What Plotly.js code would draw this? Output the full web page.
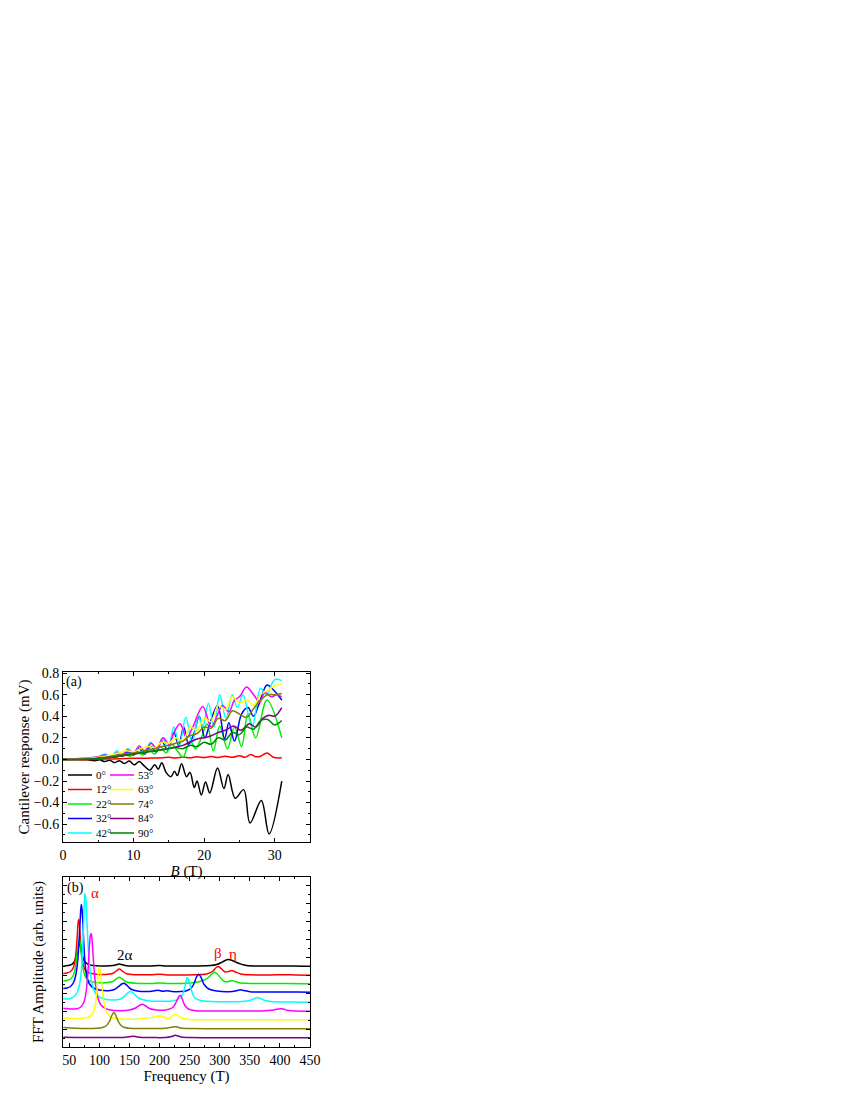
<!DOCTYPE html>
<html>
<head>
<meta charset="utf-8">
<script src="https://cdn.plot.ly/plotly-3.0.1.min.js"></script>
<style>
  body { margin: 0; background: white; }
  #chart { width: 850px; height: 1100px; }
</style>
</head>
<body>
<div id="chart"></div>
<script>
// ---- (a) cantilever response vs field, one pair of arrays per angle ----
var angles = ['0°', '12°', '22°', '32°', '42°', '53°', '63°', '74°', '84°', '90°']
var colors = ['#000000', '#ff0000', '#00ee00', '#0000ff', '#00ffff', '#ff00ff', '#ffff00', '#808000', '#800080', '#008000']

var field0 = [0, 2, 3.5, 4.5, 5.2, 5.9, 6.6, 7.3, 8.0, 8.7, 9.4, 10.1, 10.8, 11.5, 12.3, 13.0, 13.5, 14.0, 14.6, 15.3, 15.8, 16.2, 16.8, 17.5, 18.0, 18.6, 19.0, 19.6, 20.2, 20.8, 21.9, 22.8, 23.4, 24.4, 25.6, 26.5, 28.1, 29.2, 31.0]
var resp0 = [0, 0, -0.004, -0.012, -0.004, -0.02, -0.008, -0.03, -0.012, -0.038, -0.015, -0.05, -0.02, -0.06, -0.1, -0.05, -0.09, -0.03, -0.12, -0.16, -0.11, -0.15, -0.04, -0.16, -0.12, -0.26, -0.2, -0.33, -0.21, -0.31, -0.08, -0.27, -0.14, -0.36, -0.28, -0.59, -0.38, -0.69, -0.20]

var field12 = [0, 4, 6, 8, 10, 12, 14, 15, 16, 17, 18, 19, 20, 21, 22, 23, 24, 25, 25.8, 26.6, 27.3, 28.0, 28.9, 29.8, 31]
var resp12 = [0, 0, 0.003, 0.006, 0.01, 0.012, 0.015, 0.02, 0.013, 0.022, 0.015, 0.025, 0.017, 0.028, 0.018, 0.03, 0.02, 0.035, 0.02, 0.045, 0.025, 0.03, 0.06, 0.02, 0.015]

var field22 = [0, 3, 5, 6.5, 7.5, 8.5, 9.5, 10.5, 11.3, 12.2, 13.0, 13.8, 14.6, 15.4, 16.2, 17.0, 18.0, 18.8, 19.6, 20.4, 21.3, 22.2, 23.3, 24.3, 25.3, 26.2, 27.3, 28.9, 31]
var resp22 = [0, 0.005, 0.015, 0.03, 0.02, 0.05, 0.03, 0.07, 0.04, 0.09, 0.05, 0.12, 0.06, 0.14, 0.08, 0.02, 0.17, 0.1, 0.2, 0.33, 0.08, 0.31, 0.1, 0.3, 0.12, 0.42, 0.2, 0.55, 0.2]

var field32 = [0, 3, 5, 6, 6.8, 7.6, 8.4, 9.2, 10.0, 10.8, 11.6, 12.4, 13.2, 14.0, 14.8, 15.7, 16.4, 17.1, 17.8, 18.6, 19.3, 20.1, 20.8, 21.9, 22.9, 23.5, 24.3, 25.3, 26.2, 27.0, 27.7, 28.9, 29.6, 31]
var resp32 = [0, 0.005, 0.02, 0.035, 0.02, 0.05, 0.03, 0.07, 0.04, 0.1, 0.05, 0.12, 0.07, 0.17, 0.09, 0.25, 0.13, 0.3, 0.14, 0.25, 0.4, 0.2, 0.33, 0.5, 0.19, 0.34, 0.17, 0.42, 0.48, 0.4, 0.5, 0.69, 0.66, 0.55]

var field42 = [0, 3, 5, 6, 6.8, 7.6, 8.4, 9.2, 10.0, 10.8, 11.6, 12.4, 13.2, 14.1, 14.9, 15.7, 16.5, 17.4, 18.3, 19.2, 19.8, 20.6, 21.4, 22.2, 23.1, 24.0, 24.7, 25.5, 26.8, 28.0, 28.8, 30.0, 31]
var resp42 = [0, 0.01, 0.025, 0.05, 0.02, 0.08, 0.04, 0.1, 0.05, 0.13, 0.06, 0.16, 0.08, 0.2, 0.09, 0.3, 0.13, 0.39, 0.15, 0.4, 0.3, 0.52, 0.3, 0.6, 0.38, 0.6, 0.48, 0.6, 0.3, 0.66, 0.6, 0.74, 0.73]

var field53 = [0, 3, 5, 6, 6.8, 7.6, 8.4, 9.2, 10.0, 10.8, 11.6, 12.5, 13.3, 14.2, 15.0, 15.8, 16.6, 17.5, 18.4, 19.8, 21.0, 21.8, 22.6, 23.5, 24.3, 25.0, 26.0, 27.0, 27.9, 28.6, 29.5, 30.3, 31]
var resp53 = [0, 0.01, 0.025, 0.04, 0.025, 0.06, 0.04, 0.09, 0.06, 0.12, 0.08, 0.15, 0.1, 0.2, 0.14, 0.26, 0.33, 0.2, 0.3, 0.49, 0.3, 0.4, 0.5, 0.44, 0.55, 0.58, 0.67, 0.6, 0.53, 0.62, 0.58, 0.6, 0.58]

var field63 = [0, 4, 6, 8, 9, 10, 11, 12, 13, 14, 15, 16, 17, 18, 19, 20, 21, 22, 23, 24, 25, 26, 27, 28, 29, 30, 31]
var resp63 = [0, 0.01, 0.03, 0.06, 0.08, 0.07, 0.1, 0.12, 0.11, 0.16, 0.15, 0.2, 0.17, 0.3, 0.27, 0.38, 0.35, 0.5, 0.46, 0.58, 0.52, 0.55, 0.5, 0.6, 0.64, 0.68, 0.7]

var field74 = [0, 4, 6, 8, 10, 11, 12, 13, 14, 15, 16, 17, 18, 19, 20, 21, 22, 23, 24, 25, 26, 27, 28, 29, 30, 31]
var resp74 = [0, 0.005, 0.02, 0.04, 0.06, 0.07, 0.09, 0.1, 0.12, 0.13, 0.15, 0.17, 0.22, 0.24, 0.3, 0.29, 0.38, 0.36, 0.45, 0.42, 0.39, 0.47, 0.55, 0.6, 0.6, 0.61]

var field84 = [0, 4, 6, 8, 10, 12, 14, 15, 16, 17, 18, 19, 20, 21, 22, 23, 24.2, 25.2, 26.4, 27.3, 28.3, 29.2, 30.0, 31]
var resp84 = [0, 0.005, 0.015, 0.03, 0.05, 0.07, 0.09, 0.1, 0.115, 0.13, 0.16, 0.19, 0.2, 0.22, 0.25, 0.27, 0.31, 0.27, 0.33, 0.3, 0.38, 0.41, 0.4, 0.48]

var field90 = [0, 4, 6, 8, 10, 12, 13, 14, 15, 16, 17, 18, 19, 20, 21, 22, 23, 24, 25, 26, 27, 28, 29, 30, 31]
var resp90 = [0, 0.005, 0.015, 0.03, 0.05, 0.07, 0.08, 0.09, 0.1, 0.11, 0.1, 0.13, 0.12, 0.16, 0.14, 0.2, 0.18, 0.25, 0.23, 0.3, 0.28, 0.36, 0.37, 0.32, 0.36]

var fields = [field0, field12, field22, field32, field42, field53, field63, field74, field84, field90]
var resps = [resp0, resp12, resp22, resp32, resp42, resp53, resp63, resp74, resp84, resp90]

// ---- (b) FFT spectra, stacked with a vertical offset (0° on top, 84° at bottom) ----
var fftOffset = [80.5, 71.5, 63, 54.5, 44.5, 35.5, 27, 18, 9]

var freq0 = [40, 48, 54, 58, 61, 63, 65, 66.5, 68, 70, 72, 75, 79, 85, 95, 110, 122, 128, 133, 138, 145, 160, 185, 200, 210, 230, 260, 285, 295, 302, 308, 314, 320, 327, 335, 345, 360, 390, 420, 450]
var amp0 = [0.3, 1.0, 2.2, 4.5, 9, 15, 20.5, 23, 21, 15.5, 10, 5.5, 3.0, 1.6, 0.8, 0.6, 0.9, 1.8, 2.5, 1.8, 0.8, 0.5, 0.6, 0.9, 0.5, 0.4, 0.5, 0.9, 2.0, 3.8, 5.8, 7, 6.2, 4.2, 2.4, 1.0, 0.5, 0.4, 0.6, 0.3]

var freq12 = [40, 46, 52, 56, 59, 61, 63, 64.5, 65.5, 66.5, 68, 70, 72, 75, 79, 85, 95, 110, 122, 128, 133, 138, 145, 160, 185, 200, 212, 235, 260, 278, 288, 294, 298, 303, 309, 315, 320, 326, 335, 350, 380, 410, 425, 450]
var amp12 = [2.0, 2.5, 4, 7, 13, 22, 38, 52, 56, 53, 40, 24, 14, 7, 3.8, 2.2, 1.2, 1.0, 2.0, 4.5, 6.5, 4.5, 1.8, 0.8, 0.8, 1.3, 0.6, 0.6, 0.8, 1.5, 4, 8, 9, 6.5, 3.5, 4, 5, 3.5, 1.5, 0.7, 0.5, 0.8, 0.5, 0.3]

var freq22 = [40, 46, 52, 56, 59, 61, 63, 65, 66.5, 68, 70, 72, 75, 79, 85, 95, 110, 122, 128, 133, 138, 145, 160, 185, 200, 215, 235, 255, 270, 280, 286, 291, 296, 302, 308, 315, 320, 326, 335, 350, 380, 410, 450]
var amp22 = [3, 3.5, 5, 8, 13, 20, 31, 42, 45, 41, 30, 19, 10, 5, 2.6, 1.5, 1.2, 2.5, 5, 6.7, 5, 2, 0.8, 0.6, 1.0, 0.5, 0.6, 1.2, 3, 6, 9.5, 11.7, 10, 5.5, 2.5, 2.5, 3.5, 2.5, 1.0, 0.6, 0.4, 0.6, 0.3]

var freq32 = [40, 46, 52, 57, 61, 64, 66, 68, 69, 70, 71, 72.5, 74, 76, 79, 83, 90, 100, 115, 125, 132, 137, 141, 146, 152, 165, 180, 192, 198, 205, 212, 220, 235, 245, 252, 257, 261, 265, 269, 274, 282, 295, 315, 328, 334, 340, 350, 370, 400, 430, 450]
var amp32 = [4, 4.5, 6, 10, 18, 32, 50, 72, 83, 88, 84, 70, 50, 30, 16, 9, 4.5, 2.5, 1.8, 3, 6, 8.5, 9.3, 7, 3.5, 1.3, 1.0, 1.8, 2.2, 1.2, 1.8, 1.0, 1.0, 1.8, 4, 8.5, 15, 18.3, 15, 8, 3.5, 1.5, 0.8, 1.8, 2.7, 2, 0.8, 0.5, 0.4, 0.5, 0.3]

var freq42 = [40, 46, 52, 58, 63, 67, 70, 72, 73.5, 75, 76, 77.5, 79, 81, 84, 88, 95, 105, 120, 135, 143, 148, 152, 157, 165, 180, 200, 220, 232, 239, 243, 246, 249, 253, 258, 270, 300, 330, 350, 358, 363, 368, 375, 390, 420, 450]
var amp42 = [3.5, 3.5, 4, 6, 10, 18, 32, 50, 75, 100, 109, 103, 85, 60, 35, 18, 8, 4, 2.5, 3.5, 7, 10, 11, 9, 4.5, 1.8, 1.2, 1.5, 3.5, 9, 18, 25, 22, 12, 5, 1.8, 0.8, 0.8, 2, 4, 5, 4, 2, 0.8, 0.4, 0.3]

var freq53 = [40, 46, 52, 60, 68, 74, 78, 81, 83, 85, 86.5, 88, 90, 93, 97, 102, 110, 120, 135, 150, 160, 166, 171, 176, 183, 195, 210, 222, 228, 232, 235, 238, 242, 248, 260, 290, 330, 370, 390, 400, 406, 412, 425, 450]
var amp53 = [3, 3, 2.5, 2.5, 4, 9, 20, 40, 62, 76, 78, 70, 52, 30, 15, 7, 3, 1.2, 0.8, 1.5, 3.5, 6, 7.3, 6, 3, 1.5, 1.5, 4, 10, 15, 16, 12, 6, 2.5, 0.8, 0.5, 0.5, 0.6, 1.6, 2.7, 2.5, 1.2, 0.4, 0.3]

var freq63 = [40, 50, 60, 70, 80, 88, 93, 96, 98, 100, 102, 104, 107, 111, 116, 122, 130, 145, 165, 185, 194, 200, 206, 212, 218, 223, 227, 231, 236, 245, 270, 320, 380, 450]
var amp63 = [2, 1.8, 1.5, 1.5, 2.5, 6, 14, 30, 45, 52.7, 48, 35, 20, 9, 4.5, 2.2, 1.2, 0.7, 1.0, 2.5, 3.6, 4, 3.2, 1.5, 2.5, 5, 5.7, 4.5, 2, 0.8, 0.3, 0.3, 0.3, 0.3]

var freq74 = [40, 60, 80, 95, 105, 112, 117, 121, 124, 127, 131, 136, 142, 150, 165, 190, 210, 220, 226, 230, 236, 250, 300, 380, 450]
var amp74 = [1.5, 0.8, 0.5, 0.7, 1.5, 3.5, 8, 14, 16.7, 14, 8, 3.5, 1.5, 0.8, 0.5, 0.5, 0.8, 1.8, 2.3, 1.9, 0.9, 0.4, 0.3, 0.3, 0.3]

var freq84 = [40, 60, 90, 120, 140, 150, 156, 162, 170, 190, 210, 220, 226, 230, 236, 250, 300, 380, 450]
var amp84 = [0.7, 0.5, 0.4, 0.4, 0.6, 1.3, 1.8, 1.2, 0.6, 0.4, 0.5, 1.5, 2.7, 2.2, 1.0, 0.4, 0.3, 0.3, 0.3]

var freqs = [freq0, freq12, freq22, freq32, freq42, freq53, freq63, freq74, freq84]
var amps = [amp0, amp12, amp22, amp32, amp42, amp53, amp63, amp74, amp84]

var serif = 'Liberation Serif, Times New Roman, serif'
var traces = []

fields.forEach(function(f, i){
	traces.push({
		x: f, y: resps[i], type: 'scatter', mode: 'lines',
		name: angles[i], xaxis: 'x', yaxis: 'y',
		line: {color: colors[i], width: 1.5, shape: 'spline', smoothing: 1}
	})
})

freqs.forEach(function(f, i){
	var off = fftOffset[i]
	traces.push({
		x: f, y: amps[i].map(function(a){ return a + off }), type: 'scatter', mode: 'lines',
		name: angles[i] + ' FFT', xaxis: 'x2', yaxis: 'y2',
		line: {color: colors[i], width: 1.5, shape: 'spline', smoothing: 0.8}
	})
})

// frame axes: ticks inside, mirrored on all four sides
function frameAxis(extra){
	var ax = {
		showline: true, linecolor: 'black', linewidth: 1, mirror: 'allticks',
		ticks: 'inside', ticklen: 4, tickwidth: 1, tickcolor: 'black',
		showgrid: false, zeroline: false, automargin: false,
		tickfont: {family: serif, size: 14, color: 'black'},
		minor: {ticks: 'inside', ticklen: 2, tickwidth: 1, tickcolor: 'black', showgrid: false}
	}
	for(var k in extra) ax[k] = extra[k]
	return ax
}

// hand-drawn legend for panel (a), two columns of five
var shapes = []
var annotations = []
angles.forEach(function(a, i){
	var col = Math.floor(i / 5), row = i % 5
	var x0 = (68 + col * 42 - 63) / 247
	var x1 = (92 + col * 42 - 63) / 247
	var yy = (842 - (775 + row * 14.5)) / 170
	shapes.push({type: 'line', xref: 'x domain', yref: 'y domain', x0: x0, x1: x1, y0: yy, y1: yy,
		line: {color: colors[i], width: 1.5}})
	annotations.push({xref: 'x domain', yref: 'y domain', x: (93.5 + col * 42 - 63) / 247, y: yy,
		xanchor: 'left', yanchor: 'middle', showarrow: false, text: a,
		font: {family: serif, size: 11, color: 'black'}})
})

annotations.push(
	{xref: 'x domain', yref: 'y domain', x: 0.006, y: 0.94, xanchor: 'left', yanchor: 'middle', showarrow: false,
		text: '(a)', font: {family: serif, size: 14, color: 'black'}},
	{xref: 'x2 domain', yref: 'y2 domain', x: 0.008, y: 0.935, xanchor: 'left', yanchor: 'middle', showarrow: false,
		text: '(b)', font: {family: serif, size: 14, color: 'black'}},
	{xref: 'x2', yref: 'y2', x: 93, y: 154, showarrow: false, text: 'α', font: {family: serif, size: 15, color: 'red'}},
	{xref: 'x2', yref: 'y2', x: 143, y: 92, showarrow: false, text: '2α', font: {family: serif, size: 15, color: 'black'}},
	{xref: 'x2', yref: 'y2', x: 297, y: 94, showarrow: false, text: 'β', font: {family: serif, size: 15, color: 'red'}},
	{xref: 'x2', yref: 'y2', x: 322, y: 93, showarrow: false, text: 'η', font: {family: serif, size: 15, color: 'red'}}
)

var layout = {
	width: 850, height: 1100,
	margin: {l: 63, r: 540, t: 672, b: 53},
	paper_bgcolor: 'white', plot_bgcolor: 'white',
	showlegend: false,
	font: {family: serif, size: 14, color: 'black'},
	xaxis: frameAxis({anchor: 'y', domain: [0, 1], range: [0, 35], dtick: 10, tick0: 0,
		minor: {ticks: 'inside', ticklen: 2, dtick: 5, tickcolor: 'black'},
		title: {text: '<i>B</i> (T)', font: {family: serif, size: 15}, standoff: 0}}),
	yaxis: frameAxis({anchor: 'x', domain: [0.5467, 1], range: [-0.765, 0.81], dtick: 0.2, tick0: 0,
		tickformat: '.1f',
		minor: {ticks: 'inside', ticklen: 2, dtick: 0.1, tickcolor: 'black'},
		title: {text: 'Cantilever response (mV)', font: {family: serif, size: 15}, standoff: 0}}),
	xaxis2: frameAxis({anchor: 'y2', domain: [0, 1], range: [39.5, 450], dtick: 50, tick0: 0,
		minor: {ticks: 'inside', ticklen: 2, dtick: 25, tickcolor: 'black'},
		title: {text: 'Frequency (T)', font: {family: serif, size: 15}, standoff: 2}}),
	yaxis2: frameAxis({anchor: 'x2', domain: [0, 0.4533], range: [0, 170], dtick: 18, tick0: 0,
		showticklabels: false,
		minor: {ticks: 'inside', ticklen: 2, dtick: 9, tickcolor: 'black'},
		title: {text: 'FFT Amplitude (arb. units)', font: {family: serif, size: 15}, standoff: 14}}),
	shapes: shapes,
	annotations: annotations
}

Plotly.newPlot('chart', traces, layout, {staticPlot: true})
</script>
</body>
</html>
